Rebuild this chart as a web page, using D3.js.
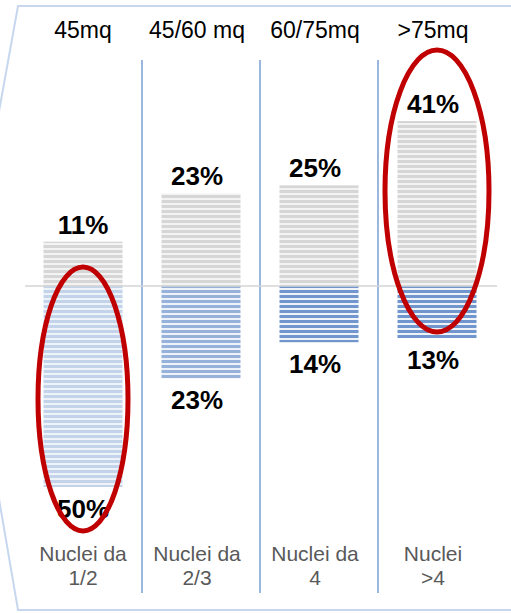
<!DOCTYPE html>
<html>
<head>
<meta charset="utf-8">
<script src="https://cdn.jsdelivr.net/npm/d3@7"></script>
<style>
  body { margin: 0; background: #fff; }
  svg { display: block; font-family: "Liberation Sans", Arial, sans-serif; }
</style>
</head>
<body>
<script>
var sizes = ['45mq', '45/60 mq', '60/75mq', '>75mq']
var groups = [['Nuclei da', '1/2'], ['Nuclei da', '2/3'], ['Nuclei da', '4'], ['Nuclei', '>4']]
var upper = [11, 23, 25, 41]
var lower = [50, 23, 14, 13]
var circled = [0, 3]

var lowerColors = ['#c3d4ea', '#97b2da', '#7096cd', '#7096cd']

var width = 511, height = 613

var svg = d3.select('body').append('svg')
  .attr('width', width)
  .attr('height', height)

var defs = svg.append('defs')

function stripes(id, color, gap){
  var p = defs.append('pattern')
    .attr('id', id)
    .attr('patternUnits', 'userSpaceOnUse')
    .attr('width', 8)
    .attr('height', 5)
  p.append('rect').attr('width', 8).attr('height', 5).attr('fill', gap)
  p.append('rect').attr('width', 8).attr('height', 3).attr('fill', color)
}
stripes('st-gray', '#d6d6d6', '#f3f3f3')
lowerColors.forEach(function(c, i){ stripes('st-blue' + i, c, '#eef3fa') })

// panel frame
svg.append('path')
  .attr('d', 'M18,6 L520,6 L520,610 L18,610 L-35,300 Z')
  .attr('fill', '#fff')
  .attr('stroke', '#c6d7ee')
  .attr('stroke-width', 2)

var x = d3.scaleBand().domain(d3.range(4)).range([24, 496]).paddingInner(0).paddingOuter(0)
var y = d3.scaleLinear().domain([-50, 41]).range([487, 121])

var bw = 79
var cx = function(i){ return x(i) + x.bandwidth() / 2 }
var tx = function(i){ return cx(i) - (i ? 4 : 0) }

// separators
svg.selectAll('line.sep').data([1, 2, 3]).enter().append('line')
  .attr('x1', function(d){ return x(d) }).attr('x2', function(d){ return x(d) })
  .attr('y1', 60).attr('y2', 593)
  .attr('stroke', '#9bb7dd').attr('stroke-width', 2)

// bars
svg.selectAll('rect.up').data(upper).enter().append('rect')
  .attr('x', function(d, i){ return cx(i) - bw / 2 })
  .attr('y', function(d){ return y(d) })
  .attr('width', bw)
  .attr('height', function(d){ return y(0) - y(d) })
  .attr('fill', 'url(#st-gray)')

svg.selectAll('rect.down').data(lower).enter().append('rect')
  .attr('x', function(d, i){ return cx(i) - bw / 2 })
  .attr('y', y(0))
  .attr('width', bw)
  .attr('height', function(d){ return y(-d) - y(0) })
  .attr('fill', function(d, i){ return 'url(#st-blue' + i + ')' })

// baseline
svg.append('line')
  .attr('x1', 25).attr('x2', 497)
  .attr('y1', y(0)).attr('y2', y(0))
  .attr('stroke', '#d4d4d4').attr('stroke-width', 1.5)

// top category labels
svg.selectAll('text.size').data(sizes).enter().append('text')
  .attr('x', function(d, i){ return tx(i) })
  .attr('y', 38)
  .attr('text-anchor', 'middle')
  .style('font-size', '23px')
  .attr('fill', '#000')
  .text(function(d){ return d })

// value labels
svg.selectAll('text.up').data(upper).enter().append('text')
  .attr('x', function(d, i){ return tx(i) })
  .attr('y', function(d){ return y(d) - 8 })
  .attr('text-anchor', 'middle')
  .style('font-size', '26px').style('font-weight', 'bold')
  .text(function(d){ return d + '%' })

svg.selectAll('text.down').data(lower).enter().append('text')
  .attr('x', function(d, i){ return tx(i) })
  .attr('y', function(d){ return y(-d) + 31 })
  .attr('text-anchor', 'middle')
  .style('font-size', '26px').style('font-weight', 'bold')
  .text(function(d){ return d + '%' })

// bottom group labels
var g = svg.selectAll('text.grp').data(groups).enter().append('text')
  .attr('text-anchor', 'middle')
  .style('font-size', '21px')
  .attr('fill', '#595959')
g.append('tspan').attr('x', function(d, i){ return tx(i) }).attr('y', 561).text(function(d){ return d[0] })
g.append('tspan').attr('x', function(d, i){ return tx(i) }).attr('y', 585).text(function(d){ return d[1] })

// red highlight ellipses
svg.append('ellipse')
  .attr('cx', cx(circled[0])).attr('cy', 399)
  .attr('rx', 45).attr('ry', 132)
  .attr('fill', 'none').attr('stroke', '#c00000').attr('stroke-width', 5)

svg.append('ellipse')
  .attr('cx', cx(circled[1])).attr('cy', 191)
  .attr('rx', 52).attr('ry', 141)
  .attr('fill', 'none').attr('stroke', '#c00000').attr('stroke-width', 5)
</script>
</body>
</html>
